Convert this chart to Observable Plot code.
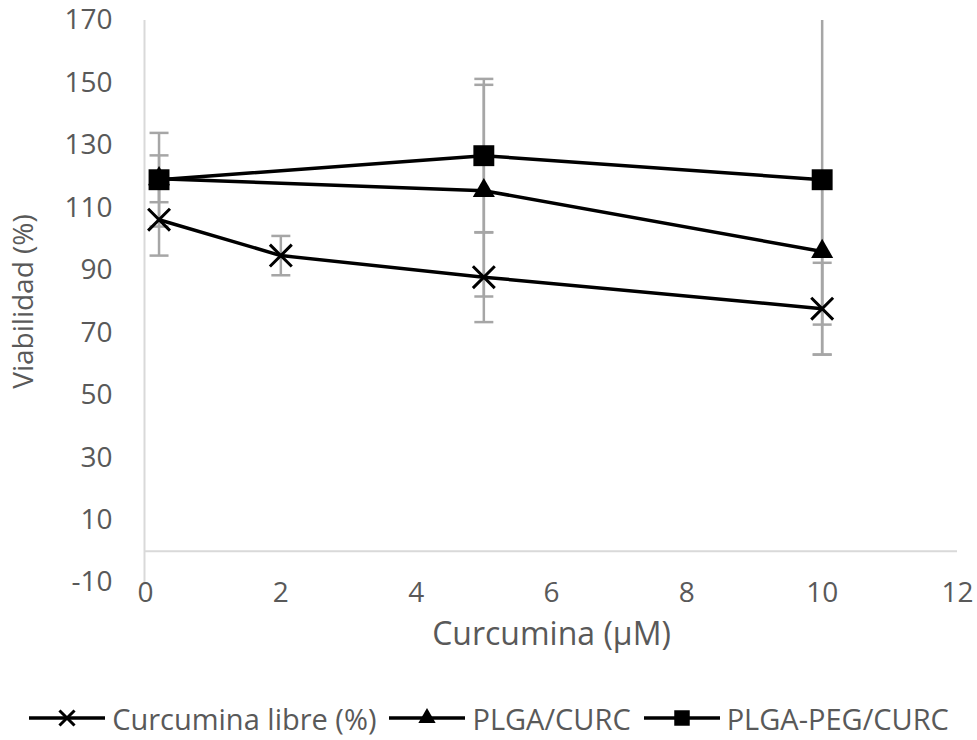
<!DOCTYPE html>
<html><head><meta charset="utf-8">
<script src="https://cdn.jsdelivr.net/npm/d3@7"></script>
<script src="https://cdn.jsdelivr.net/npm/@observablehq/plot@0.6"></script>
<style>
body{margin:0;background:#fff;font-family:"Open Sans",sans-serif;}
#legend{display:flex;justify-content:center;align-items:center;height:56px;color:#595959;font-size:29px;white-space:nowrap;}
.item{display:flex;align-items:center;margin:0 6px;}
.item svg{margin-right:6px;}
</style></head><body>
<div id="chart"></div>
<div id="legend"></div>
<script>
const seriesNames = ["Curcumina libre (%)", "PLGA/CURC", "PLGA-PEG/CURC"];
const libreX = [0.2, 2, 5, 10];
const libreY = [106.2, 94.7, 87.8, 77.7];
const libreErr = [11.5, 6.3, 14.4, 14.7];
const plgaX = [0.2, 5, 10];
const plgaY = [119.3, 115.5, 96];
const plgaErr = [7.5, 33.9, 23.4];
const pegX = [0.2, 5, 10];
const pegY = [119, 126.7, 119];
const pegErr = [15, 24.6, 56];
const xTicks = [0, 2, 4, 6, 8, 10, 12];
const yTicks = [-10, 10, 30, 50, 70, 90, 110, 130, 150, 170];

const mk = (s, xs, ys, es) => xs.map((x, i) => ({s, x, y: ys[i], e: es[i]}));
const libre = mk(seriesNames[0], libreX, libreY, libreErr);
const plga = mk(seriesNames[1], plgaX, plgaY, plgaErr);
const peg = mk(seriesNames[2], pegX, pegY, pegErr);
const rows = [...libre, ...plga, ...peg];

const cap = {draw(ctx, size) { const w = Math.sqrt(size / Math.PI); ctx.moveTo(-w, 0); ctx.lineTo(w, 0); }};
const errColor = "#a6a6a6";

const chart = Plot.plot({
  width: 977,
  height: 690,
  marginTop: 20,
  marginBottom: 108,
  marginLeft: 145,
  marginRight: 20,
  style: {fontFamily: "'Open Sans', sans-serif", fontSize: "28px", color: "#595959", background: "#fff"},
  x: {domain: [0, 12]},
  y: {domain: [-10, 170]},
  marks: [
    Plot.ruleY([0], {stroke: "#d9d9d9", strokeWidth: 2}),
    Plot.ruleX([0], {stroke: "#d9d9d9", strokeWidth: 2, dx: -1}),
    Plot.ruleX(rows, {x: "x", y1: d => d.y - d.e, y2: d => d.y + d.e, stroke: errColor, strokeWidth: 2.5, clip: true}),
    Plot.dot(rows, {x: "x", y: d => d.y + d.e, symbol: cap, r: 9.5, fill: "none", stroke: errColor, strokeWidth: 2.5, clip: true}),
    Plot.dot(rows, {x: "x", y: d => d.y - d.e, symbol: cap, r: 9.5, fill: "none", stroke: errColor, strokeWidth: 2.5, clip: true}),
    Plot.line(rows, {x: "x", y: "y", z: "s", stroke: "black", strokeWidth: 3.5}),
    Plot.dot(libre, {x: "x", y: "y", symbol: "times", r: 10, stroke: "black", strokeWidth: 3}),
    Plot.dot(plga, {x: "x", y: "y", symbol: "triangle", r: 8.2, fill: "black", stroke: "none"}),
    Plot.dot(peg, {x: "x", y: "y", symbol: "square", r: 11.8, fill: "black", stroke: "none"}),
    Plot.axisX({ticks: xTicks, tickSize: 0, tickPadding: 0, tickFormat: d => String(d), fontSize: 28, label: null}),
    Plot.axisX({ticks: [], tickSize: 0, fontSize: 32,
      label: "Curcumina (µM)", labelAnchor: "center", labelOffset: 62, labelArrow: "none"}),
    Plot.axisY({ticks: yTicks, tickSize: 0, tickPadding: 33, tickFormat: d => String(d), fontSize: 28,
      label: "Viabilidad (%)", labelAnchor: "center", labelOffset: 132, labelArrow: "none"})
  ]
});
document.getElementById("chart").appendChild(chart);

// legend
const legendSymbols = [
  {type: d3.symbolTimes, size: 150, stroke: true},
  {type: d3.symbolTriangle, size: 130, stroke: false},
  {type: d3.symbolSquare, size: 240, stroke: false}
];
const legend = d3.select("#legend");
seriesNames.forEach((name, i) => {
  const item = legend.append("div").attr("class", "item");
  const svg = item.append("svg").attr("width", 78).attr("height", 26);
  svg.append("line").attr("x1", 1).attr("x2", 77).attr("y1", 13).attr("y2", 13).attr("stroke", "black").attr("stroke-width", 3.5);
  const sym = legendSymbols[i];
  svg.append("path").attr("transform", "translate(39,13)")
    .attr("d", d3.symbol(sym.type, sym.size)())
    .attr("fill", sym.stroke ? "none" : "black")
    .attr("stroke", sym.stroke ? "black" : "none")
    .attr("stroke-width", 3);
  item.append("span").text(name);
});
</script></body></html>
